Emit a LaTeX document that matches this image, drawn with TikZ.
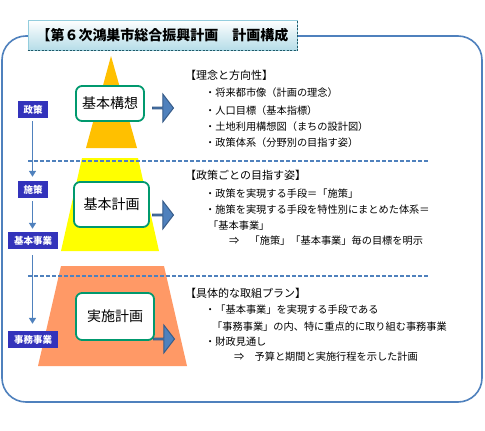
\documentclass[tikz,border=0pt]{standalone}
\usepackage{fontspec}
\newfontfamily\jp{Noto Sans CJK JP}
\usetikzlibrary{shapes.arrows,arrows.meta}
\definecolor{frameblue}{HTML}{4F81BD}
\definecolor{arrowedge}{HTML}{385D8A}
\definecolor{pyrA}{HTML}{FFC000}
\definecolor{pyrB}{HTML}{FFFF00}
\definecolor{pyrC}{HTML}{FF9966}
\definecolor{boxgreen}{HTML}{00996E}
\definecolor{tagblue}{HTML}{3333BB}
\definecolor{titleedge}{HTML}{93CDDD}
\definecolor{titledark}{HTML}{215968}
\definecolor{titlebot}{HTML}{B6DDE8}
\tikzset{
  frameline/.style={draw=frameblue,line width=1.6pt,rounded corners=24pt},
  planbox/.style={draw=boxgreen,line width=1.8pt,fill=white,rounded corners=6pt,inner sep=0pt,font=\jp\fontsize{14}{14}\selectfont},
  tagbox/.style={fill=tagblue,text=white,inner sep=0pt,minimum height=17pt,font=\jp\bfseries\fontsize{9.5}{9.5}\selectfont},
  bigarrow/.style={single arrow,fill=frameblue,draw=arrowedge,line width=1pt,inner sep=0pt,minimum width=28pt,minimum height=21pt,single arrow head extend=7pt,single arrow tip angle=105,anchor=west},
  vflow/.style={draw=frameblue,line width=1.6pt,-{Triangle[width=7pt,length=6pt]}},
  sepline/.style={draw=frameblue,line width=1.5pt,dash pattern=on 4pt off 2pt},
  headtxt/.style={anchor=west,inner sep=0pt,font=\jp\fontsize{11}{11}\selectfont},
  itemtxt/.style={anchor=west,inner sep=0pt,font=\jp\fontsize{10.2}{10.2}\selectfont},
}
\begin{document}
\begin{tikzpicture}[x=1pt,y=-1pt]
\useasboundingbox (0,0) rectangle (485,431);
\fill[white] (0,0) rectangle (485,431);
% outer frame
\draw[frameline] (2,36) rectangle (482,402);
% title
\node[shade,top color=white,bottom color=titlebot,draw=titleedge,line width=1pt,minimum width=269pt,minimum height=30pt,inner sep=0pt,font=\jp\bfseries\fontsize{14}{14}\selectfont] (title) at (162.5,35) {【第６次鴻巣市総合振興計画　計画構成};
\draw[titledark,line width=1.2pt,dash pattern=on 2pt off 1.5pt] (title.south west) -- (title.south east) -- (title.north east);
% pyramid
\fill[pyrA] (111,56) -- (137,148) -- (86,148) -- cycle;
\fill[pyrB] (82,158) -- (138,158) -- (159,251) -- (61,251) -- cycle;
\fill[pyrC] (61,266) -- (164,266) -- (187,366) -- (38,366) -- cycle;
% separators
\coordinate (s1a) at (28,161);
\coordinate (s1b) at (428,161);
\coordinate (s2a) at (28,276);
\coordinate (s2b) at (428,276);
\draw[sepline] (s1a) -- (s1b);
\draw[sepline] (s2a) -- (s2b);
% plan boxes
\node[planbox,minimum width=68pt,minimum height=35pt] (kousou) at (110,103.5) {基本構想};
\node[planbox,minimum width=75pt,minimum height=45pt] (keikaku) at (111.5,204.5) {基本計画};
\node[planbox,minimum width=78pt,minimum height=47pt] (jisshi) at (115,316.5) {実施計画};
% block arrows
\node[bigarrow] (ar1) at (152,108) {};
\node[bigarrow] (ar2) at (152,215) {};
\node[bigarrow] (ar3) at (153,339) {};
% left tags
\node[tagbox,minimum width=30pt] (seisaku) at (33,109.5) {政策};
\node[tagbox,minimum width=30pt] (shisaku) at (33,189.5) {施策};
\node[tagbox,minimum width=50pt] (kihon) at (33,240.5) {基本事業};
\node[tagbox,minimum width=50pt] (jimu) at (33,339.5) {事務事業};
\draw[vflow,shorten <=3pt,shorten >=4pt] (seisaku.south -| 32.5,0) -- (shisaku.north -| 32.5,0);
\draw[vflow,shorten <=3pt,shorten >=3pt] (shisaku.south -| 32.5,0) -- (kihon.north -| 32.5,0);
\draw[vflow,shorten <=6pt,shorten >=7pt] (kihon.south -| 32.5,0) -- (jimu.north -| 32.5,0);
% section 1
\node[headtxt] (h1) at (185,75) {【理念と方向性】};
\node[itemtxt] (i11) at (205,93) {・将来都市像（計画の理念）};
\node[itemtxt] (i12) at (205,111) {・人口目標（基本指標）};
\node[itemtxt] (i13) at (205,127) {・土地利用構想図（まちの設計図）};
\node[itemtxt] (i14) at (205,143) {・政策体系（分野別の目指す姿）};
% section 2
\node[headtxt] (h2) at (185,175) {【政策ごとの目指す姿】};
\node[itemtxt] (i21) at (205,194) {・政策を実現する手段＝「施策」};
\node[itemtxt] (i22) at (205,210) {・施策を実現する手段を特性別にまとめた体系＝};
\node[itemtxt] (i23) at (208,226) {「基本事業」};
\node[itemtxt] (i24) at (229,241) {⇒　「施策」「基本事業」毎の目標を明示};
% section 3
\node[headtxt] (h3) at (185,293) {【具体的な取組プラン】};
\node[itemtxt] (i31) at (205,310) {・「基本事業」を実現する手段である};
\node[itemtxt] (i32) at (212,327) {「事務事業」の内、特に重点的に取り組む事務事業};
\node[itemtxt] (i33) at (205,342) {・財政見通し};
\node[itemtxt] (i34) at (234,357) {⇒　予算と期間と実施行程を示した計画};
\end{tikzpicture}
\end{document}
